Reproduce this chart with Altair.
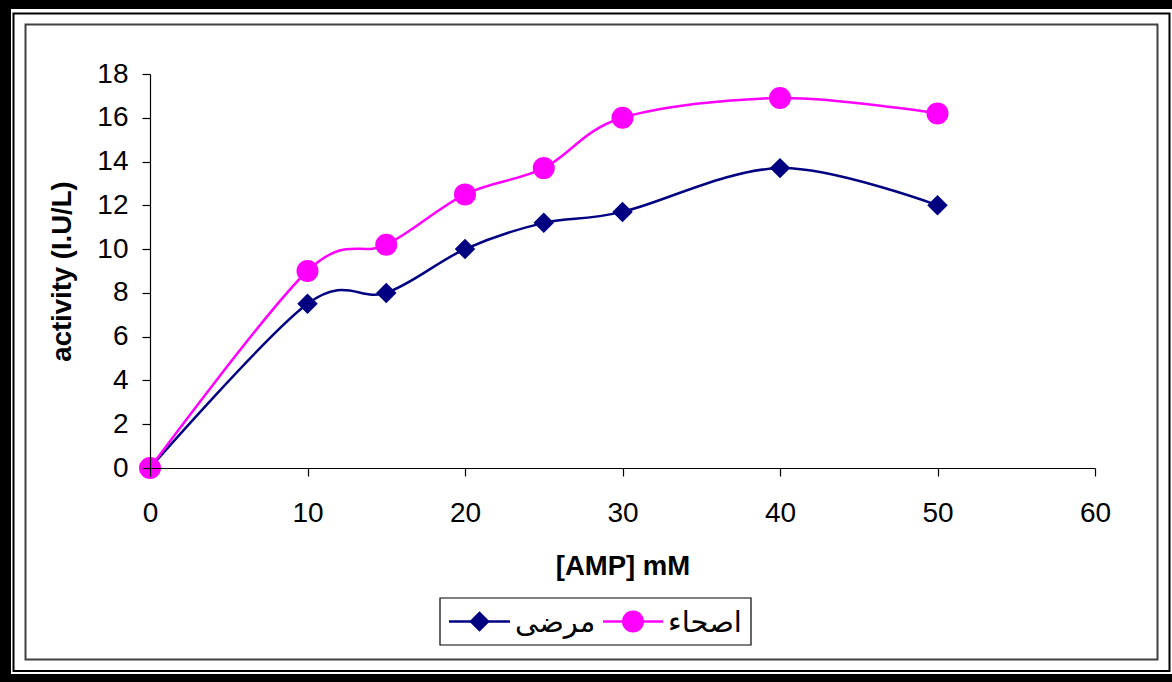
import altair as alt
import pandas as pd

amp = [0, 10, 15, 20, 25, 30, 40, 50]
patients = [0, 7.5, 8.0, 10.0, 11.2, 11.7, 13.7, 12.0]
healthy = [0, 9.0, 10.2, 12.5, 13.7, 16.0, 16.9, 16.2]
series_names = ["مرضى", "اصحاء"]
series_colors = ["#000080", "#FF00FF"]
series_shapes = ["diamond", "circle"]
x_ticks = [0, 10, 20, 30, 40, 50, 60]
y_ticks = [0, 2, 4, 6, 8, 10, 12, 14, 16, 18]

rows = []
for a, v in zip(amp, patients):
    rows.append({"amp": a, "activity": v, "series": series_names[0]})
for a, v in zip(amp, healthy):
    rows.append({"amp": a, "activity": v, "series": series_names[1]})
df = pd.DataFrame(rows)

W, H = 945, 394
PL, PT = 150, 74
FONT = "Liberation Sans, Arial, DejaVu Sans"
MARK_SIZE = {"diamond": 420, "circle": 484}

one = alt.Data(values=[{}])

def frame_rect(x0, y0, x1, y1, **kw):
    return alt.Chart(one).mark_rect(**kw).encode(
        x=alt.value(x0 - PL), x2=alt.value(x1 - PL),
        y=alt.value(y0 - PT), y2=alt.value(y1 - PT))

# decorative frame (outer thick border, thin line, chart-area border)
bg_black = frame_rect(0, 0, 1172, 682, fill="black")
bg_white = frame_rect(11, 9, 1172, 674, fill="white")
thin_line = frame_rect(13.5, 13.5, 1169.5, 671, fill="white", stroke="black", strokeWidth=2)
inner = frame_rect(25.5, 24.5, 1157.5, 659.5, fill="white", stroke="#404040", strokeWidth=2)

xs = alt.X("amp:Q", scale=alt.Scale(domain=[0, 60], nice=False, zero=False),
           axis=alt.Axis(values=x_ticks, title="[AMP] mM", format="d", zindex=2, labelFlush=False))
ys = alt.Y("activity:Q", scale=alt.Scale(domain=[0, 18], nice=False),
           axis=alt.Axis(values=y_ticks, title="activity (I.U/L)", format="d", zindex=2))

base = alt.Chart(df)

lines = base.mark_line(interpolate="cardinal", strokeWidth=2.5).encode(
    x=xs, y=ys,
    color=alt.Color("series:N", scale=alt.Scale(domain=series_names, range=series_colors), legend=None),
    detail="series:N",
)

pt_layers = []
for name, col, shp in zip(series_names, series_colors, series_shapes):
    pt_layers.append(
        base.transform_filter(alt.datum.series == name).mark_point(
            shape=shp, filled=True, size=MARK_SIZE[shp], opacity=1, color=col
        ).encode(x=xs, y=ys)
    )

# legend (drawn as a box with line+marker samples and the series names)
LEG_X0, LEG_Y0, LEG_X1, LEG_Y1 = 440, 598, 751, 645
leg_cy = (LEG_Y0 + LEG_Y1) / 2
leg_box = frame_rect(LEG_X0, LEG_Y0, LEG_X1, LEG_Y1, fill="white", stroke="black", strokeWidth=1.2)
leg_entries = [(449, 510, 515), (603, 663, 668)]
leg_layers = [leg_box]
for (sx0, sx1, tx), name, col, shp in zip(leg_entries, series_names, series_colors, series_shapes):
    leg_layers.append(alt.Chart(one).mark_rule(stroke=col, strokeWidth=2.5).encode(
        x=alt.value(sx0 - PL), x2=alt.value(sx1 - PL), y=alt.value(leg_cy - PT)))
    leg_layers.append(alt.Chart(one).mark_point(shape=shp, filled=True, opacity=1, color=col,
                                                size=MARK_SIZE[shp]).encode(
        x=alt.value((sx0 + sx1) / 2 - PL), y=alt.value(leg_cy - PT)))
    leg_layers.append(alt.Chart(alt.Data(values=[{"label": name}])).mark_text(
        font=FONT, fontSize=29, color="black", align="left", baseline="middle", dy=1).encode(
        text="label:N", x=alt.value(tx - PL), y=alt.value(leg_cy - PT)))

chart = alt.layer(bg_black, bg_white, thin_line, inner, lines, *pt_layers, *leg_layers).properties(
    width=W, height=H,
    autosize=alt.AutoSizeParams(type="none"),
    padding={"left": PL, "top": PT, "right": 1172 - PL - W, "bottom": 682 - PT - H},
    background="white",
).configure_view(stroke=None).configure_axis(
    labelFont=FONT, labelFontSize=28, labelColor="black",
    titleFont=FONT, titleFontSize=27.5, titleFontWeight="bold", titleColor="black",
    domainColor="black", domainWidth=1.2, tickColor="black", tickWidth=1.2, tickSize=8,
    grid=False,
).configure_axisX(labelPadding=23, titlePadding=25).configure_axisY(labelPadding=14, titlePadding=20)

chart.save("out.html", embed_options={"renderer": "svg", "actions": False})
